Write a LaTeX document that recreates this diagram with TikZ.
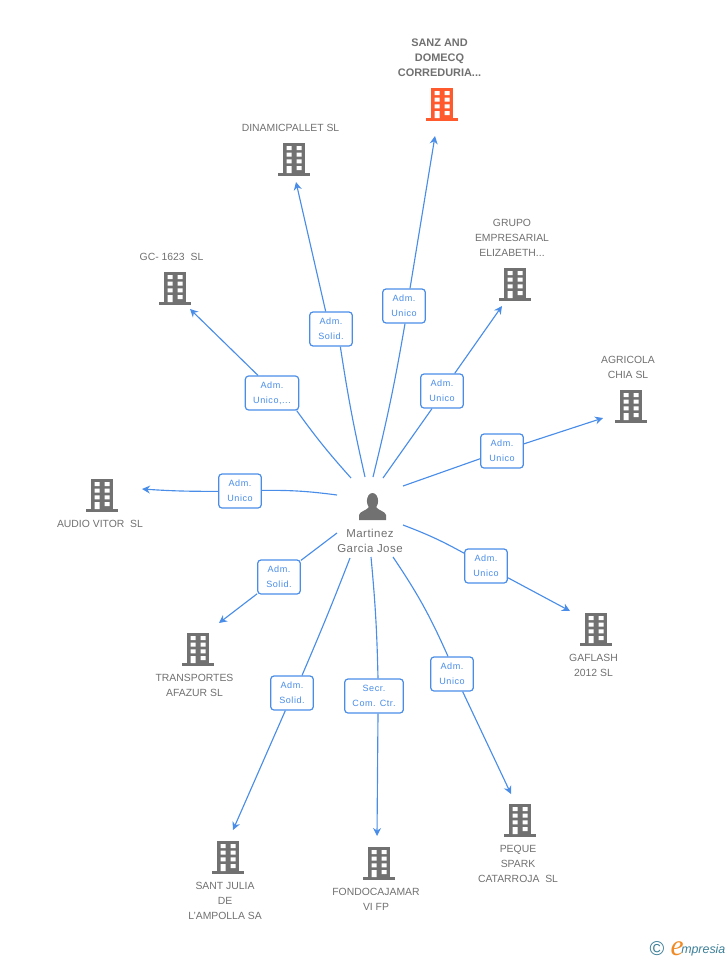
\documentclass[tikz,border=0pt]{standalone}
\usepackage{fontspec}
\setmainfont{Liberation Sans}
\newfontfamily\boxfont[LetterSpace=6]{Liberation Sans}
\newfontfamily\personfont[LetterSpace=4]{Liberation Sans}
\newfontfamily\logofont{Liberation Serif}
\usetikzlibrary{arrows.meta}
\definecolor{linkblue}{HTML}{4A8DE8}
\definecolor{iconcol}{HTML}{717171}
\definecolor{labelcol}{HTML}{707070}
\definecolor{mainorange}{HTML}{FF5A2D}
\definecolor{logoteal}{HTML}{3C7F98}
\definecolor{logoorange}{HTML}{F08A24}
\tikzset{
    company/.style={font=\fontsize{7.8pt}{11.2pt}\selectfont, text=labelcol, align=center, inner sep=0pt},
    rolebox/.style={draw=linkblue, line width=0.9pt, rounded corners=2.5pt, fill=white, text=linkblue,
        font=\boxfont\fontsize{6.8pt}{11.2pt}\selectfont, align=center, inner sep=0pt, minimum height=25.5pt},
    link/.style={linkblue, line width=0.85pt},
    linkend/.style={link, -{Stealth[length=6pt,width=6pt]}},
    pics/building/.style={code={
        \fill[#1] (-11,-16.5) rectangle (11,14);
        \fill[#1] (-16,14) rectangle (16,17);
        \fill[white] (-7.5,-13) rectangle (-2.5,-9) (2.5,-13) rectangle (7.5,-9);
        \fill[white] (-7.5,-6.3) rectangle (-2.5,-2.3) (2.5,-6.3) rectangle (7.5,-2.3);
        \fill[white] (-7.5,0.3) rectangle (-2.5,4.3) (2.5,0.3) rectangle (7.5,4.3);
        \fill[white] (-7.5,7) rectangle (-2.5,14) (2.5,7) rectangle (7.5,11);
    }},
}
\begin{document}
\begin{tikzpicture}[x=0.75pt,y=-0.75pt]
    \useasboundingbox (0,0) rectangle (728,960);

    % Buildings
    \pic at (442,104) {building=mainorange};
    \pic at (294,159) {building=iconcol};
    \pic at (175,288) {building=iconcol};
    \pic at (515,284) {building=iconcol};
    \pic at (631,406) {building=iconcol};
    \pic at (102,495) {building=iconcol};
    \pic at (198,649) {building=iconcol};
    \pic at (228,857) {building=iconcol};
    \pic at (379,863) {building=iconcol};
    \pic at (520,820) {building=iconcol};
    \pic at (596,629) {building=iconcol};

    % Company names
    \node[company, font=\bfseries\fontsize{8.2pt}{11.2pt}\selectfont] (sanz) at (439.5,57.5) {SANZ AND\\DOMECQ\\CORREDURIA...};
    \node[company] (dinamic) at (290.5,128) {DINAMICPALLET SL};
    \node[company] (gc) at (171.5,257) {GC- 1623\ \ SL};
    \node[company] (grupo) at (512,238) {GRUPO\\EMPRESARIAL\\ELIZABETH...};
    \node[company] (agricola) at (628,367.5) {AGRICOLA\\CHIA SL};
    \node[company] (audio) at (100,524) {AUDIO VITOR\ \ SL};
    \node[company] (transportes) at (194.5,685.5) {TRANSPORTES\\AFAZUR SL};
    \node[company] (santjulia) at (225,901) {SANT JULIA\\DE\\L'AMPOLLA SA};
    \node[company] (fondo) at (376,899.5) {FONDOCAJAMAR\\VI FP};
    \node[company] (peque) at (518,864) {PEQUE\\SPARK\\CATARROJA\ \ SL};
    \node[company] (gaflash) at (593.5,665.5) {GAFLASH\\2012 SL};

    % Person
    \fill[iconcol] (372.5,501) ellipse (5.6 and 8);
    \fill[iconcol] (359,520) -- (359,515) .. controls (360,511) and (366,511) .. (369,507) -- (376,507)
        .. controls (379,511) and (385,511) .. (386,515) -- (386,520) -- cycle;
    \node[company, font=\personfont\fontsize{8.6pt}{11.2pt}\selectfont] (person) at (370,540.5) {Martinez\\Garcia Jose};

    % Role boxes
    \node[rolebox, minimum width=32pt] (r1) at (404,306) {Adm.\\Unico};
    \node[rolebox, minimum width=32pt] (r2) at (331,329) {Adm.\\Solid.};
    \node[rolebox, minimum width=40pt] (r3) at (272,393) {Adm.\\Unico,...};
    \node[rolebox, minimum width=32pt] (r4) at (442,391) {Adm.\\Unico};
    \node[rolebox, minimum width=32pt] (r5) at (502,451) {Adm.\\Unico};
    \node[rolebox, minimum width=32pt] (r6) at (240,491) {Adm.\\Unico};
    \node[rolebox, minimum width=32pt] (r7) at (486,566) {Adm.\\Unico};
    \node[rolebox, minimum width=32pt] (r8) at (279,577) {Adm.\\Solid.};
    \node[rolebox, minimum width=32pt] (r9) at (452,674) {Adm.\\Unico};
    \node[rolebox, minimum width=32pt] (r10) at (292,693) {Adm.\\Solid.};
    \node[rolebox, minimum width=44pt] (r11) at (374,696) {Secr.\\Com. Ctr.};

    % Free ends of the links
    \coordinate (s1) at (373,477);   \coordinate (e1) at (435,136);
    \coordinate (s2) at (365,477);   \coordinate (e2) at (296,182);
    \coordinate (s3) at (351,478);   \coordinate (e3) at (190,309);
    \coordinate (s4) at (383,478);   \coordinate (e4) at (502,306);
    \coordinate (s5) at (403,486);   \coordinate (e5) at (603,418);
    \coordinate (s6) at (337,495);   \coordinate (e6) at (142,489);
    \coordinate (s7) at (403,525);   \coordinate (e7) at (570,611);
    \coordinate (s8) at (337,533);   \coordinate (e8) at (219,623);
    \coordinate (s9) at (393,557);   \coordinate (e9) at (511,794);
    \coordinate (s10) at (350,558);  \coordinate (e10) at (233,830);
    \coordinate (s11) at (371,557);  \coordinate (e11) at (377,836);

    % Links
    \draw[link] (s1) to[bend right=2] ([xshift=0.75pt]r1.south);
    \draw[linkend] ([xshift=4.5pt]r1.north) -- (e1);
    \draw[link] (s2) to[bend left=2] ([xshift=7pt]r2.south);
    \draw[linkend] ([xshift=-4pt]r2.north) -- (e2);
    \draw[link] (s3) to[bend left=3] ([xshift=18.5pt]r3.south);
    \draw[linkend] ([xshift=-10.5pt]r3.north) -- (e3);
    \draw[link] (s4) -- ([xshift=-7.5pt]r4.south);
    \draw[linkend] ([xshift=9.5pt]r4.north) -- (e4);
    \draw[link] (s5) -- (r5);
    \draw[linkend] (r5) -- (e5);
    \draw[link] (s6) to[bend right=4] (r6);
    \draw[linkend] (r6) to[bend left=2] (e6);
    \draw[link] (s7) to[bend left=4] (r7);
    \draw[linkend] (r7) -- (e7);
    \draw[link] (s8) -- (r8);
    \draw[linkend] (r8) -- (e8);
    \draw[link] (s9) to[bend left=5] ([xshift=-3pt]r9.north);
    \draw[linkend] ([xshift=8pt]r9.south) -- (e9);
    \draw[link] (s10) to[bend left=1] ([xshift=7.5pt]r10.north);
    \draw[linkend] ([xshift=-5pt]r10.south) -- (e10);
    \draw[link] (s11) to[bend left=2] ([xshift=3pt]r11.north);
    \draw[linkend] ([xshift=3pt]r11.south) -- (e11);

    % Logo
    \node[text=logoteal, font=\fontsize{15pt}{15pt}\selectfont, inner sep=0pt] (copyr) at (657,949) {©};
    \node[anchor=base west, inner sep=0pt, font=\itshape\fontsize{9.3pt}{10pt}\selectfont, text=logoteal] (logo) at (681,953)
        {mpresia};
    \node[anchor=base east, inner sep=0pt, font=\logofont\itshape\fontsize{22pt}{22pt}\selectfont, text=logoorange] (logoe) at (684,955) {e};
\end{tikzpicture}
\end{document}
